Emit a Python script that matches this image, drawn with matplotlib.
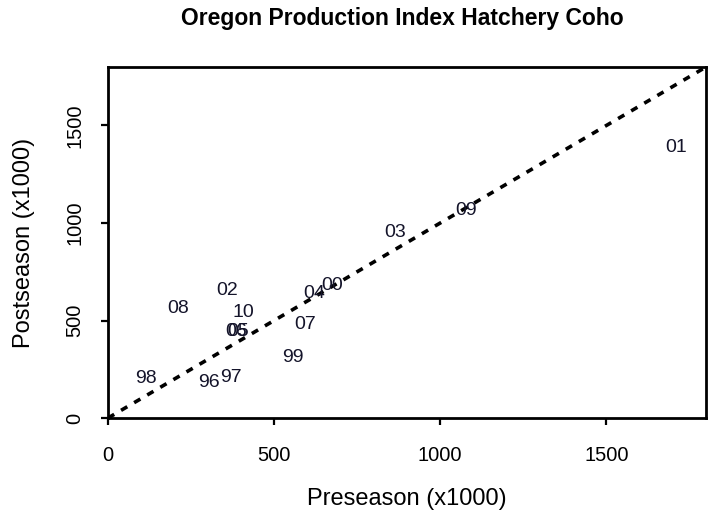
import matplotlib
matplotlib.use("Agg")
import matplotlib.pyplot as plt

# brood year labels with preseason / postseason forecasts (x1000)
years = ['96', '97', '98', '99', '00', '01', '02', '03', '04', '05',
         '06', '07', '08', '09', '10']
preseason = [305, 371, 115, 557, 674, 1710, 359, 863, 620, 392,
             386, 593, 212, 1077, 407]
postseason = [184, 209, 204, 311, 679, 1388, 653, 949, 638, 444,
              444, 480, 561, 1066, 541]

plt.rcParams['font.family'] = ['Liberation Sans', 'DejaVu Sans']

fig = plt.figure(figsize=(7.09, 5.18), dpi=100)
ax = fig.add_axes([0.1523, 0.193, 0.8435, 0.6777])

for yr, x, y in zip(years, preseason, postseason):
    ax.text(x, y, yr, ha='center', va='center', fontsize=14, color='#14142a')

# 1:1 reference line
ax.plot([0, 1800], [0, 1800], color='black', lw=2.6, linestyle=(0, (2.0, 2.2)))

ax.set_xlim(0, 1800)
ax.set_ylim(0, 1800)
ax.set_xticks([0, 500, 1000, 1500])
ax.set_yticks([0, 500, 1000, 1500])
ax.set_yticklabels(['0', '500', '1000', '1500'], rotation=90, va='center')
ax.tick_params(length=5, width=1.6, labelsize=14.5)
ax.tick_params(axis='x', pad=15)
ax.tick_params(axis='y', pad=12)
for s in ax.spines.values():
    s.set_linewidth(2)

ax.set_xlabel('Preseason (x1000)', fontsize=17)
ax.set_ylabel('Postseason (x1000)', fontsize=17)
ax.xaxis.set_label_coords(0.5, -0.231)
ax.yaxis.label.set_va('center')
ax.yaxis.set_label_coords(-0.1405, 0.5)
ax.xaxis.label.set_va('center')

fig.text(0.568, 1 - 19 / 518, 'Oregon Production Index Hatchery Coho',
         ha='center', va='center', fontsize=16.5, fontweight='bold')

fig.savefig('out.png', dpi=100)
